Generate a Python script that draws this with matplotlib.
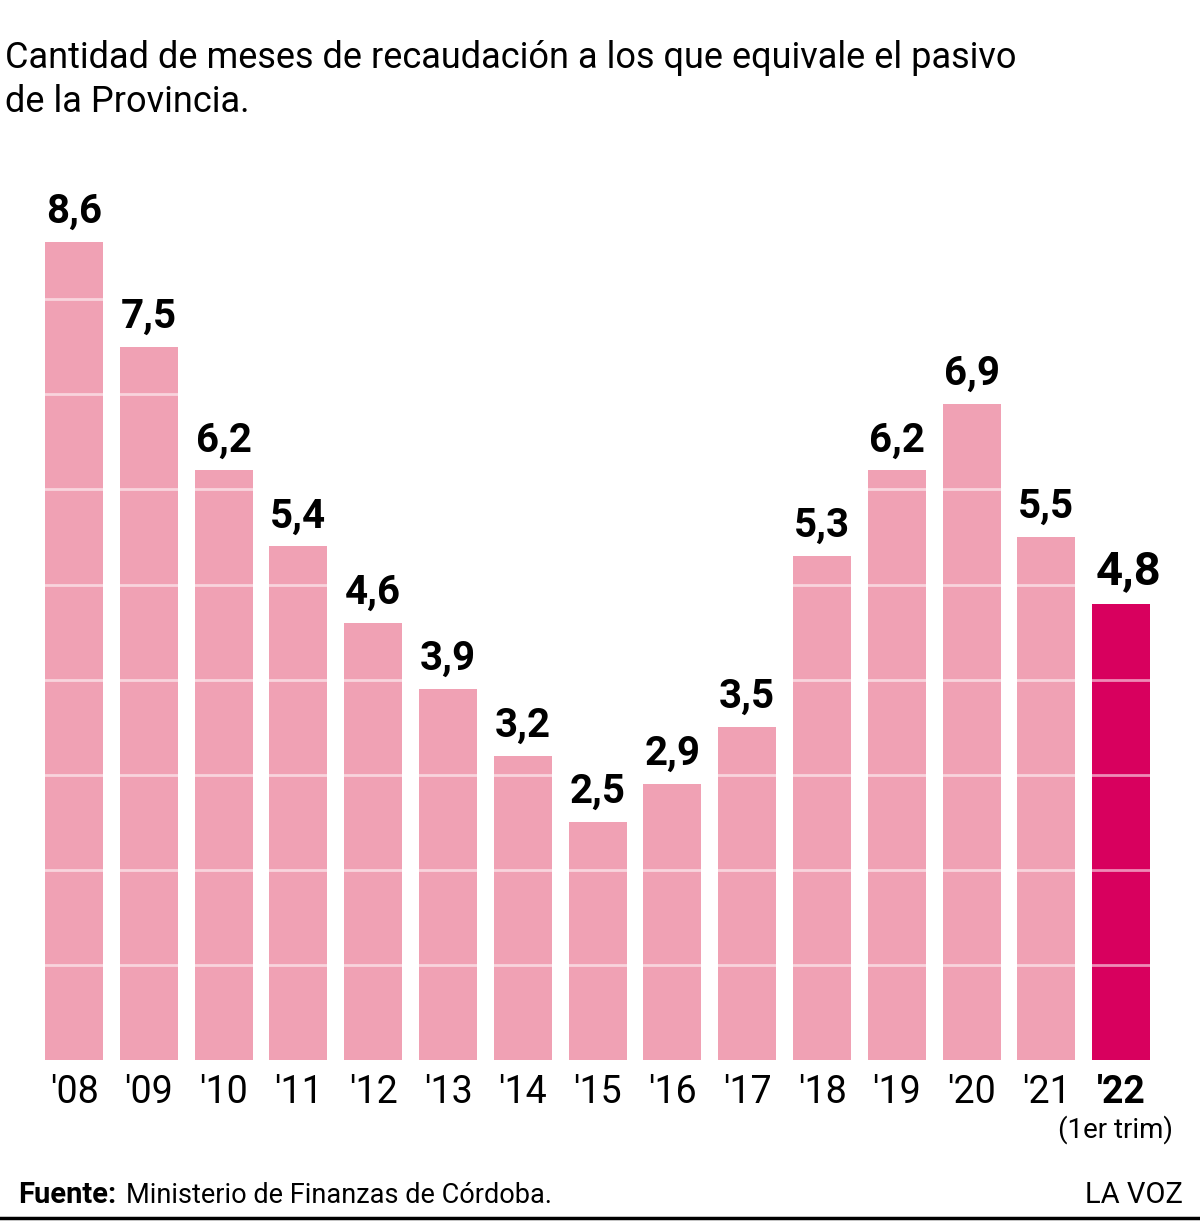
import numpy as np
import matplotlib.pyplot as plt

# Data
years = ["'08", "'09", "'10", "'11", "'12", "'13", "'14", "'15",
         "'16", "'17", "'18", "'19", "'20", "'21", "'22"]
values = [8.6, 7.5, 6.2, 5.4, 4.6, 3.9, 3.2, 2.5, 2.9, 3.5, 5.3, 6.2, 6.9, 5.5, 4.8]
labels = ["8,6", "7,5", "6,2", "5,4", "4,6", "3,9", "3,2", "2,5",
          "2,9", "3,5", "5,3", "6,2", "6,9", "5,5", "4,8"]

title_lines = ["Cantidad de meses de recaudación a los que equivale el pasivo",
               "de la Provincia."]

plt.rcParams['font.family'] = ['Roboto', 'DejaVu Sans']

pink = '#f0a1b4'
magenta = '#d8005e'

W, H = 1200, 1221
fig = plt.figure(figsize=(W / 100, H / 100), dpi=100)

base = 1060
ppu = 95.1
top_px = 150
ax = fig.add_axes([0, (H - base) / H, 1, (base - top_px) / H])
x0, dx = 74, 74.8
ax.set_xlim(-x0 / dx, (W - x0) / dx)
ax.set_ylim(0, (base - top_px) / ppu)

x = np.arange(len(values))
colors = [pink] * (len(values) - 1) + [magenta]
ax.bar(x, values, width=58 / dx, color=colors, zorder=2)

# white guide lines, only visible over the bars
for k in range(1, 9):
    ax.axhline(k, color='white', lw=2, alpha=0.55, zorder=3)

for i, (v, lab) in enumerate(zip(values, labels)):
    last = i == len(values) - 1
    ax.text(i + (0.1 if last else 0), v + 0.2, lab, ha='center', va='baseline',
            fontsize=34 if last else 29, fontweight='bold', color='black')

ax.set_xticks([])
ax.set_yticks([])
for s in ax.spines.values():
    s.set_visible(False)

for i, yl in enumerate(years):
    last = i == len(years) - 1
    ax.text(i, -0.45, yl, ha='center', va='baseline', fontsize=27,
            fontweight='bold' if last else 'normal')
ax.text(13.92, -0.82, "(1er trim)", ha='center', va='baseline', fontsize=20)

for line, yb in zip(title_lines, [68, 112]):
    fig.text(5 / W, 1 - yb / H, line, ha='left', va='baseline', fontsize=26)

fig.text(18 / W, 1 - 1203 / H, "Fuente:", ha='left', va='baseline', fontsize=21,
         fontweight='bold')
fig.text(126 / W, 1 - 1203 / H, "Ministerio de Finanzas de Córdoba.", ha='left',
         va='baseline', fontsize=19.5)
fig.text(1183 / W, 1 - 1203 / H, "LA VOZ", ha='right', va='baseline', fontsize=21)

fig.add_artist(plt.Line2D([0, 1], [1 - 1218 / H] * 2, color='black', lw=2.5,
                          transform=fig.transFigure))

fig.savefig('out.png', dpi=100)
